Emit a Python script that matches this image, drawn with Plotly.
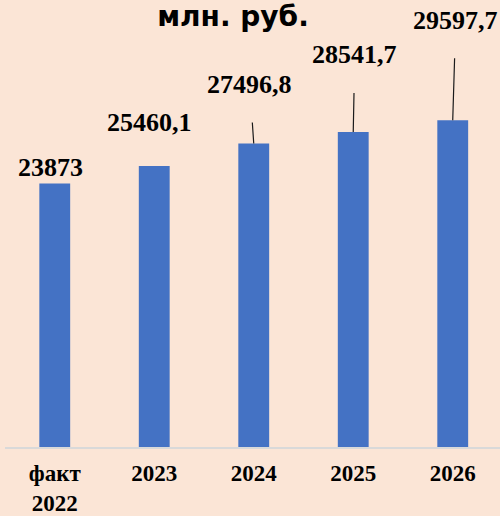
import plotly.graph_objects as go

# Budget figures, млн. руб.
categories = ["факт<br>2022", "2023", "2024", "2025", "2026"]
values = [23873, 25460.1, 27496.8, 28541.7, 29597.7]
value_labels = ["23873", "25460,1", "27496,8", "28541,7", "29597,7"]

# label placement relative to each bar top (px); leader line drawn where `leader` is True
label_dx = [-4, -4.5, -4, 1.5, 3]
label_dy = [-16, -43.5, -59, -77, -100]
leader = [False, False, True, True, True]

BG = "#FBE5D6"
BAR = "#4472C4"
SERIF = "Liberation Serif"

fig = go.Figure(
    go.Bar(
        x=list(range(len(categories))),
        y=values,
        width=0.31,
        marker=dict(color=BAR, line=dict(width=0)),
        hoverinfo="skip",
    )
)

for i, (v, txt) in enumerate(zip(values, value_labels)):
    common = dict(
        x=i, y=v, xref="x", yref="y", text=txt,
        font=dict(family=SERIF, size=26, color="#000000", weight="bold"),
    )
    if leader[i]:
        fig.add_annotation(
            **common,
            showarrow=True, ax=label_dx[i], ay=label_dy[i],
            arrowside="end+start", arrowhead=0, startarrowhead=0,
            startstandoff=22, arrowwidth=1.2, arrowcolor="#1a1a1a",
        )
    else:
        fig.add_annotation(
            **common, showarrow=False,
            xshift=label_dx[i], yshift=-label_dy[i],
        )

fig.update_layout(
    width=500, height=516,
    margin=dict(l=5, r=0, t=0, b=69),
    paper_bgcolor=BG, plot_bgcolor=BG,
    showlegend=False,
    title=dict(
        text="млн. руб.",
        font=dict(family="DejaVu Sans", size=28, color="#000000", weight="bold"),
        x=233 / 500, xanchor="center", xref="container",
        y=1 - 16 / 516, yanchor="middle", yref="container",
        automargin=False,
    ),
    xaxis=dict(
        tickmode="array",
        tickvals=list(range(len(categories))),
        ticktext=categories,
        range=[-0.5, 4.475],
        showline=True, linecolor="#D9D9D9", linewidth=1.5,
        showgrid=False, zeroline=False, ticks="",
        tickfont=dict(family=SERIF, size=23, color="#000000", weight="bold"),
        ticklabelstandoff=5,
        automargin=False,
        fixedrange=True,
    ),
    yaxis=dict(range=[0, 40500], visible=False, fixedrange=True, automargin=False),
)

fig.write_html("out.html")
